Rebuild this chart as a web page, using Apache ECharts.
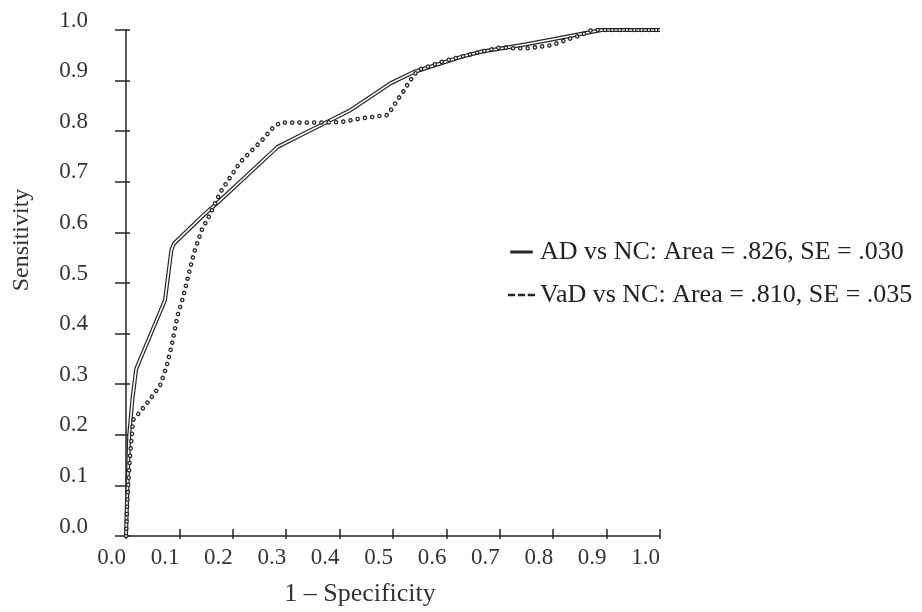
<!DOCTYPE html>
<html><head><meta charset="utf-8">
<script src="https://cdn.jsdelivr.net/npm/echarts@6/dist/echarts.min.js"></script>
<style>html,body{margin:0;padding:0;background:#fff}#c{width:922px;height:612px}</style>
</head><body><div id="c"></div>
<script>
// AD vs NC ROC curve (solid)
const adFpr = [0, 0.002, 0.006, 0.012, 0.019, 0.073, 0.085, 0.09, 0.145, 0.177, 0.284, 0.327, 0.421, 0.496, 0.539, 0.628, 0.665, 0.75, 0.891, 1.0];
const adTpr = [0, 0.07, 0.2, 0.27, 0.33, 0.466, 0.565, 0.578, 0.634, 0.664, 0.769, 0.792, 0.842, 0.895, 0.917, 0.947, 0.957, 0.972, 1.0, 1.0];
// VaD vs NC ROC curve (dotted)
const vadFpr = [0, 0.003, 0.007, 0.011, 0.013, 0.026, 0.045, 0.064, 0.076, 0.085, 0.097, 0.108, 0.117, 0.128, 0.142, 0.155, 0.177, 0.214, 0.252, 0.276, 0.289, 0.359, 0.402, 0.445, 0.49, 0.506, 0.521, 0.53, 0.547, 0.6, 0.665, 0.703, 0.722, 0.754, 0.797, 0.829, 0.853, 0.872, 1.0];
const vadTpr = [0, 0.08, 0.15, 0.2, 0.229, 0.245, 0.27, 0.298, 0.335, 0.374, 0.437, 0.476, 0.516, 0.562, 0.605, 0.631, 0.68, 0.739, 0.779, 0.808, 0.817, 0.817, 0.818, 0.826, 0.832, 0.858, 0.881, 0.897, 0.921, 0.94, 0.957, 0.966, 0.964, 0.964, 0.97, 0.982, 0.99, 1.0, 1.0];
const seriesNames = ['AD vs NC: Area = .826, SE = .030', 'VaD vs NC: Area = .810, SE = .035'];
const xAxisTitle = '1 \u2013 Specificity';
const yAxisTitle = 'Sensitivity';
const tickLabels = ['0.0','0.1','0.2','0.3','0.4','0.5','0.6','0.7','0.8','0.9','1.0'];

const FONT = '"Liberation Serif", "Times New Roman", serif';
const INK = '#262626';
const zip = (a, b) => a.map((v, i) => [v, b[i]]);
const fmt = v => tickLabels[Math.round(v * 10)];

const chart = echarts.init(document.getElementById('c'), null, {renderer: 'canvas'});
const axisLineStyle = {color: INK, width: 1.5};
chart.setOption({
  animation: false,
  backgroundColor: '#fff',
  grid: {left: 126, right: 262, top: 30, bottom: 75},
  legend: {
    orient: 'vertical', left: 503, top: 232, itemGap: 13,
    itemWidth: 27, itemHeight: 3, selectedMode: false,
    textStyle: {fontFamily: FONT, fontSize: 26, color: '#222', lineHeight: 30},
    data: [
      {name: seriesNames[0], icon: 'path://M0,0H30V4H0Z'},
      {name: seriesNames[1], icon: 'path://M0,0H8V3H0Z M11,0H19V3H11Z M22,0H30V3H22Z'}
    ]
  },
  xAxis: [{
    type: 'value', min: 0, max: 1, interval: 0.1, position: 'bottom',
    axisLine: {lineStyle: axisLineStyle},
    axisTick: {length: 3, lineStyle: axisLineStyle},
    splitLine: {show: false},
    axisLabel: {formatter: fmt, align: 'right', margin: 10, fontFamily: FONT, fontSize: 23, color: '#333'},
    name: xAxisTitle, nameLocation: 'middle', nameGap: 45,
    nameTextStyle: {fontFamily: FONT, fontSize: 26, color: '#333', padding: [0, 66, 0, 0]}
  }, {
    type: 'value', min: 0, max: 1, interval: 0.1, position: 'bottom', offset: 0,
    axisLine: {show: false},
    axisTick: {inside: true, length: 7, lineStyle: axisLineStyle},
    axisLabel: {show: false}, splitLine: {show: false}
  }],
  yAxis: [{
    type: 'value', min: 0, max: 1, interval: 0.1, position: 'left',
    axisLine: {lineStyle: axisLineStyle},
    axisTick: {length: 11, lineStyle: axisLineStyle},
    splitLine: {show: false},
    axisLabel: {formatter: fmt, margin: 38, verticalAlign: 'bottom', lineHeight: 19, fontFamily: FONT, fontSize: 23, color: '#333'},
    name: yAxisTitle, nameLocation: 'middle', nameRotate: 90, nameGap: 92,
    nameTextStyle: {fontFamily: FONT, fontSize: 24, color: '#333', padding: [0, 0, 0, 86]}
  }, {
    type: 'value', min: 0, max: 1, interval: 0.1, position: 'left', offset: 0,
    axisLine: {show: false},
    axisTick: {inside: true, length: 4, lineStyle: axisLineStyle},
    axisLabel: {show: false}, splitLine: {show: false}
  }],
  series: [
    {name: seriesNames[0], type: 'line', data: zip(adFpr, adTpr), symbol: 'none', color: INK,
     lineStyle: {color: INK, width: 4}, z: 2},
    {name: 'AD inner', type: 'line', data: zip(adFpr, adTpr), symbol: 'none', silent: true,
     lineStyle: {color: '#fff', width: 1.6}, z: 3},
    {name: seriesNames[1], type: 'line', data: zip(vadFpr, vadTpr), symbol: 'none', color: INK,
     lineStyle: {color: INK, width: 4.6, type: [0.01, 7.3], cap: 'round'}, z: 4},
    {name: 'VaD inner', type: 'line', data: zip(vadFpr, vadTpr), symbol: 'none', silent: true,
     lineStyle: {color: '#fff', width: 2, type: [0.01, 7.3], cap: 'round'}, z: 5}
  ]
});
</script></body></html>
